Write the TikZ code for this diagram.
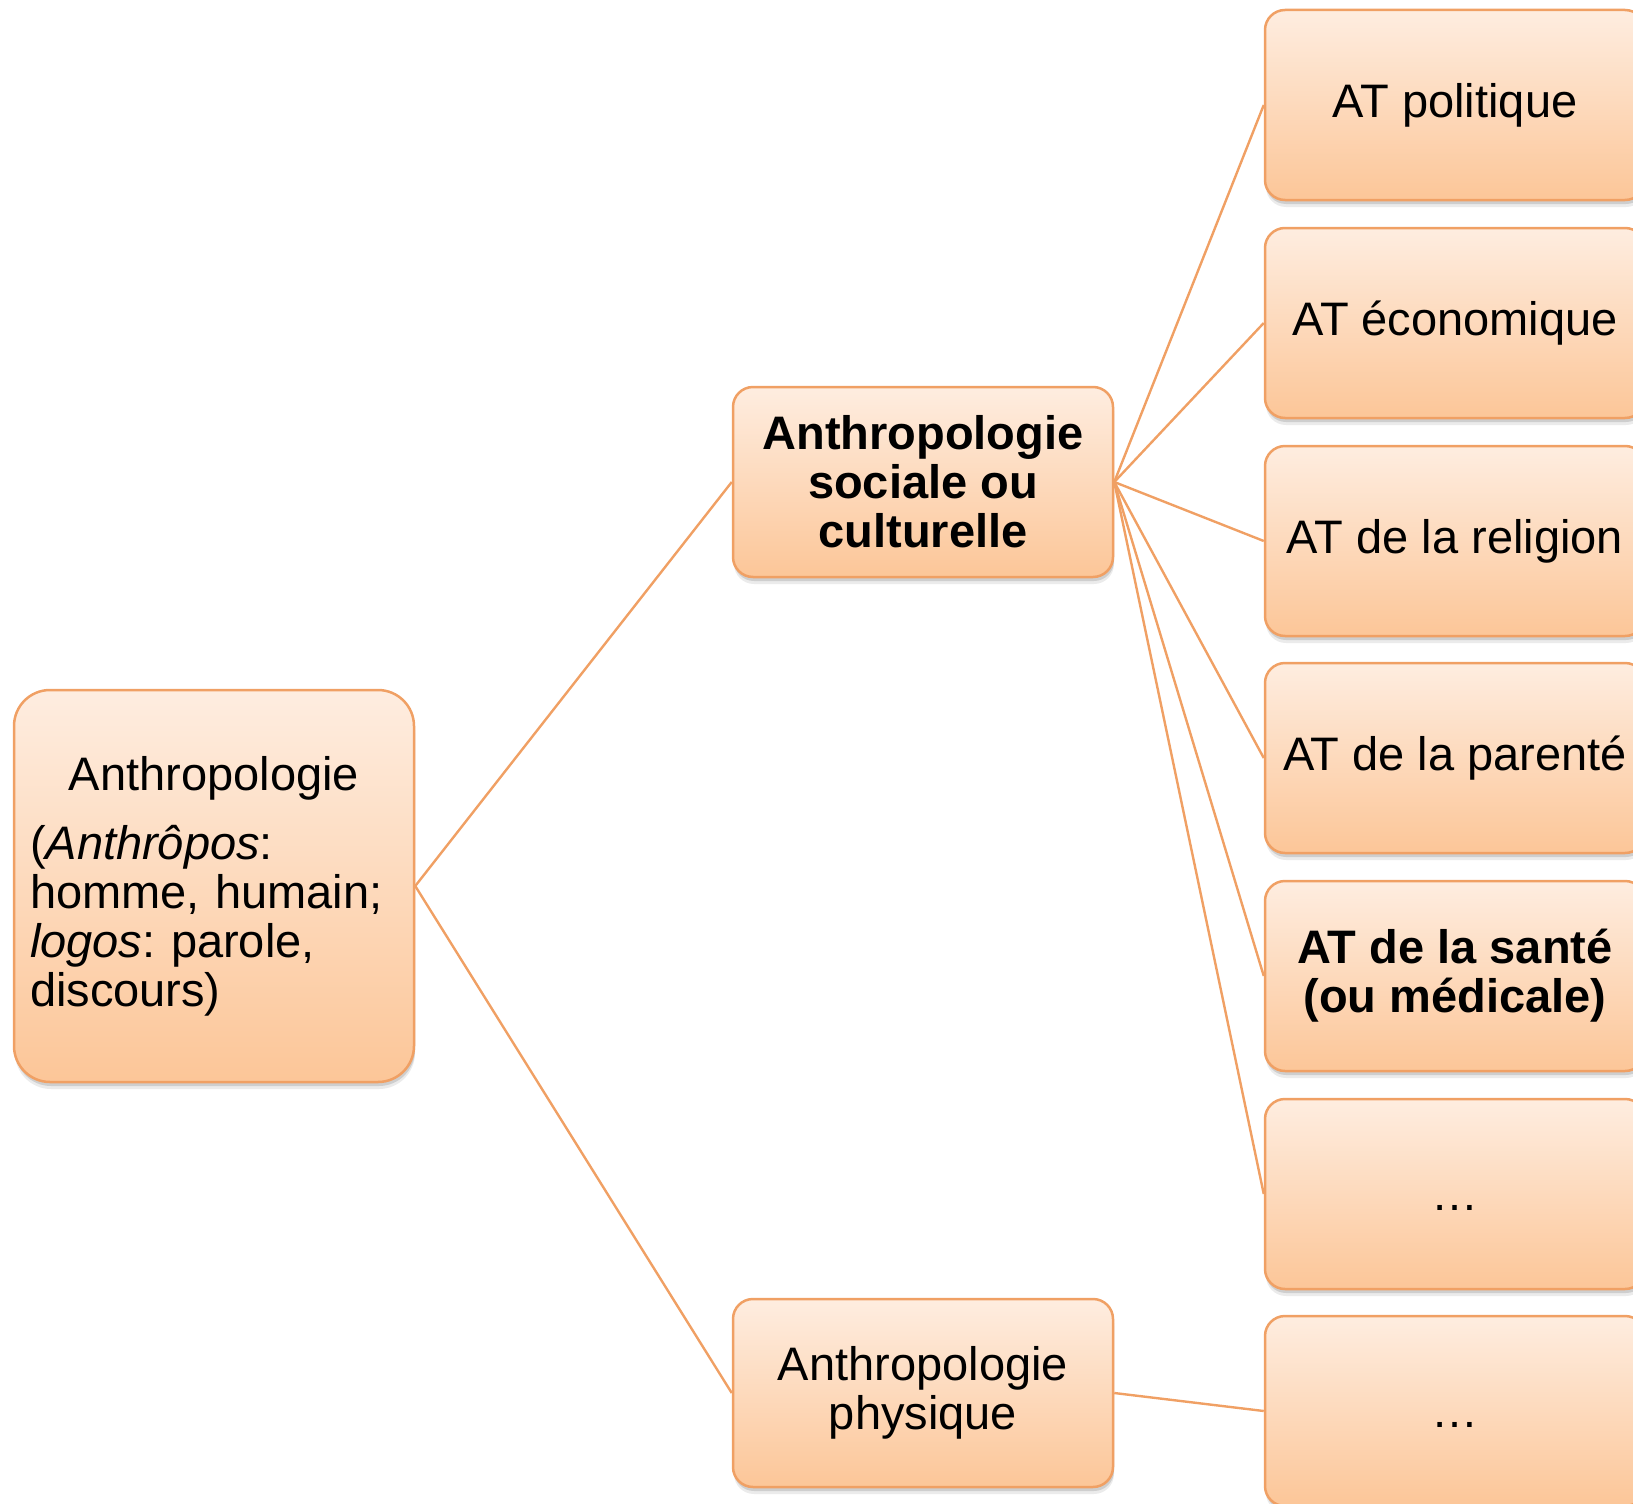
\documentclass[tikz,border=0pt]{standalone}
\usepackage{fontspec}
\setmainfont{Liberation Sans}
\usetikzlibrary{shadows}
\definecolor{boxtop}{RGB}{254,237,224}
\definecolor{boxbot}{RGB}{252,198,152}
\definecolor{boxline}{RGB}{240,160,100}
\tikzset{
  box/.style={draw=boxline, line width=2.5pt, top color=boxtop, bottom color=boxbot,
    rounded corners=20pt, minimum width=380pt, minimum height=190pt, inner sep=0pt,
    align=center, font=\fontsize{47}{49}\selectfont,
    drop shadow={shadow xshift=1pt, shadow yshift=-4pt, opacity=0.12, fill=black},
    drop shadow={shadow xshift=1pt, shadow yshift=-7pt, opacity=0.08, fill=black}},
  link/.style={draw=boxline, line width=2.4pt}
}
\frenchspacing
\begin{document}
\begin{tikzpicture}[x=1pt,y=-1pt]
\useasboundingbox (0,0) rectangle (1633,1504);
\clip (0,0) rectangle (1633,1504);
\node[box, rounded corners=36pt, minimum width=400pt, minimum height=392pt, text width=368pt, align=left] (root) at (214,886)
  {\frenchspacing\centering Anthropologie\par\vspace{20pt}\raggedright(\textit{Anthrôpos}:\\homme, humain;\\\textit{logos}: parole,\\discours)};
\node[box, font=\fontsize{47}{49}\selectfont\bfseries] (soc) at (923,482) {Anthropologie\\sociale ou\\culturelle};
\node[box, minimum height=188pt] (phys) at (923,1393) {Anthropologie\\physique};
\node[box] (r1) at (1455,105) {AT politique};
\node[box] (r2) at (1455,323) {AT économique};
\node[box] (r3) at (1455,541) {AT de la religion};
\node[box] (r4) at (1455,758) {AT de la parenté};
\node[box, font=\fontsize{47}{49}\selectfont\bfseries] (r5) at (1455,976) {AT de la santé\\(ou médicale)};
\node[box] (r6) at (1455,1194) {\vphantom{A}…};
\node[box] (r7) at (1455,1411) {\vphantom{A}…};
\draw[link] (root.east) -- (soc.west);
\draw[link] (root.east) -- (phys.west);
\foreach \k in {r1,r2,r3,r4,r5,r6}{\draw[link] (soc.east) -- (\k.west);}
\draw[link] (phys.east) -- (r7.west);
\end{tikzpicture}
\end{document}
